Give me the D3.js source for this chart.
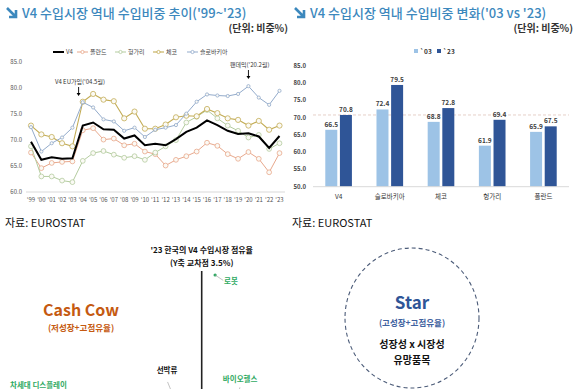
<!DOCTYPE html>
<html>
<head>
<meta charset="utf-8">
<script src="https://cdn.jsdelivr.net/npm/d3@7"></script>
<style>
  body { margin: 0; background: #ffffff; }
  svg { display: block; font-family: "Noto Sans CJK KR", "Noto Sans", sans-serif; }
</style>
</head>
<body>
<svg id="chart" width="584" height="389"></svg>
<script>

// Line chart data : share of intra-EU imports, '99 ~ '23
var years = ["'99","'00","'01","'02","'03","'04","'05","'06","'07","'08","'09","'10","'11",
             "'12","'13","'14","'15","'16","'17","'18","'19","'20","'21","'22","'23"];

var v4       = [69.7,66.2,66.7,66.4,66.5,72.8,73.4,72.1,72.0,70.3,70.9,69.0,69.3,69.0,70.2,71.6,72.4,73.8,72.9,71.8,71.2,71.3,70.7,68.5,70.8];
var poland   = [67.6,64.6,65.6,65.8,65.9,71.9,72.3,70.1,70.3,69.0,69.3,67.8,67.3,65.1,66.2,66.9,67.8,69.5,68.9,67.3,66.4,67.7,66.4,63.8,67.5];
var hungary  = [68.8,63.0,63.0,62.2,61.9,66.0,67.5,67.9,67.2,66.6,66.9,66.2,67.6,68.8,70.0,73.4,74.5,75.8,74.2,72.8,71.8,70.5,71.0,68.3,69.4];
var czech    = [72.8,71.1,70.6,69.4,68.8,77.4,78.9,77.8,77.5,74.2,75.5,72.2,72.2,73.0,74.4,74.7,74.6,76.0,75.2,74.2,73.9,72.8,73.7,72.0,72.8];
var slovakia = [72.5,67.8,69.4,70.5,72.4,77.3,76.3,74.0,73.6,71.8,72.4,70.6,72.0,72.4,72.9,75.1,77.4,78.8,78.6,78.5,78.9,80.4,78.2,76.8,79.5];

var lineTicks = [60, 65, 70, 75, 80, 85];

// Bar chart data : '03 vs '23
var barCountries = ["V4", "슬로바키아", "체코", "헝가리", "폴란드"];
var bar03 = [66.5, 72.4, 68.8, 61.9, 65.9];
var bar23 = [70.8, 79.5, 72.8, 69.4, 67.5];
var barTicks = [50, 55, 60, 65, 70, 75, 80, 85];

// Matrix : '23 Korea's share of the V4 import market (growth / share)
var matrixItems = [
  { name: "로봇",             growth: 3.92,  share: 10.0, color: "#2faa62", dx: 9,   dy: 9,   anchor: "start" },
  { name: "선박류",           growth: 2.6,   share: 1.1,  color: "#111111", dx: -6,  dy: -22, anchor: "middle" },
  { name: "바이오헬스",       growth: 4.64,  share: 1.1,  color: "#2faa62", dx: 2,   dy: -13, anchor: "middle" },
  { name: "차세대 디스플레이", growth: -2.13, share: 0.9,  color: "#2faa62", dx: -12, dy: -9.5, anchor: "start" }
];

var svg = d3.select("#chart");
var titleColor = "#3c88bd";

// ---------- headers ----------
function header(x, title, unitX) {
  svg.append("path")
     .attr("d", "M" + (x) + "," + 8 + " L" + (x + 8) + "," + 16 + " M" + (x + 9) + "," + 10 + " L" + (x + 9) + "," + 17 + " L" + (x + 2) + "," + 17)
     .attr("fill", "none")
     .attr("stroke", titleColor)
     .attr("stroke-width", 2.6);
  svg.append("text")
     .attr("x", x + 15)
     .attr("y", 18)
     .attr("fill", titleColor)
     .style("font-size", "13px")
     .style("font-weight", "500")
     .text(title);
  svg.append("text")
     .attr("x", unitX)
     .attr("y", 32)
     .attr("text-anchor", "end")
     .attr("fill", "#333")
     .style("font-size", "10px")
     .style("font-weight", "bold")
     .text("(단위: 비중%)");
}
header(7, "V4 수입시장 역내 수입비중 추이('99~'23)", 288);
header(295, "V4 수입시장 역내 수입비중 변화('03 vs '23)", 573);

// ---------- line chart ----------
var x = d3.scalePoint().domain(years).range([31, 279.5]);
var y = d3.scaleLinear().domain([60, 85]).range([192, 62.3]);

svg.append("line")
   .attr("x1", 26).attr("x2", 285)
   .attr("y1", y(60)).attr("y2", y(60))
   .attr("stroke", "#d9d9d9").attr("stroke-width", 1);

svg.append("g").selectAll("text")
   .data(lineTicks).enter().append("text")
   .attr("x", 22)
   .attr("y", function(d) { return y(d) + 2; })
   .attr("text-anchor", "end")
   .attr("fill", "#555")
   .style("font-size", "6px")
   .text(function(d) { return d.toFixed(1); });

svg.append("g").selectAll("text")
   .data(years).enter().append("text")
   .attr("x", function(d) { return x(d); })
   .attr("y", 202)
   .attr("text-anchor", "middle")
   .attr("fill", "#555")
   .style("font-size", "6px")
   .text(function(d) { return d; });

var series = [
  { name: "폴란드",     values: poland,   color: "#e8a88c", width: 1, r: 2.4 },
  { name: "헝가리",     values: hungary,  color: "#b4cc9f", width: 1, r: 2.4 },
  { name: "체코",       values: czech,    color: "#c3ac55", width: 1.1, r: 2.6 },
  { name: "슬로바키아", values: slovakia, color: "#93abcb", width: 1, r: 1.6 },
  { name: "V4",         values: v4,       color: "#000000", width: 2, r: 0 }
];

var line = d3.line()
  .x(function(d, i) { return x(years[i]); })
  .y(function(d) { return y(d); });

series.forEach(function(s) {
  svg.append("path")
     .datum(s.values)
     .attr("d", line)
     .attr("fill", "none")
     .attr("stroke", s.color)
     .attr("stroke-width", s.width);
  if (s.r > 0) {
    svg.append("g").selectAll("circle")
       .data(s.values).enter().append("circle")
       .attr("cx", function(d, i) { return x(years[i]); })
       .attr("cy", function(d) { return y(d); })
       .attr("r", s.r)
       .attr("fill", "#fbfaf5")
       .attr("stroke", s.color)
       .attr("stroke-width", 0.8);
  }
});

// legend
var legendOrder = ["V4", "폴란드", "헝가리", "체코", "슬로바키아"];
var legendX = [53, 77, 115, 153, 187];
legendOrder.forEach(function(name, i) {
  var s = series.filter(function(d) { return d.name === name; })[0];
  var g = svg.append("g").attr("transform", "translate(" + legendX[i] + ",52)");
  g.append("line").attr("x1", 0).attr("x2", 11).attr("y1", 0).attr("y2", 0)
   .attr("stroke", s.color).attr("stroke-width", s.width);
  if (s.r > 0) {
    g.append("circle").attr("cx", 5.5).attr("cy", 0).attr("r", 1.6)
     .attr("fill", "#fff").attr("stroke", s.color).attr("stroke-width", 0.8);
  }
  g.append("text").attr("x", 13).attr("y", 2)
   .attr("fill", "#444").style("font-size", "6px").text(name);
});

// annotations
function note(label, year, textX, textY, y1, y2) {
  svg.append("text").attr("x", textX).attr("y", textY)
     .attr("fill", "#333").style("font-size", "6px").text(label);
  svg.append("line").attr("x1", year).attr("x2", year).attr("y1", y1).attr("y2", y2 - 3)
     .attr("stroke", "#000").attr("stroke-width", 0.9);
  svg.append("path")
     .attr("d", "M" + (year - 2) + "," + (y2 - 3) + " L" + (year + 2) + "," + (y2 - 3) + " L" + year + "," + y2 + " Z")
     .attr("fill", "#000");
}
note("V4 EU가입('04.5월)", (x("'03") + x("'04")) / 2 + 1, 55, 84, 87, 96);
note("팬데믹('20.2월)", x("'20"), 230, 67, 70, 79);

// ---------- bar chart ----------
var x0 = d3.scaleBand().domain(barCountries).range([313, 569]).paddingInner(0.48).paddingOuter(0.24);
var x1 = d3.scaleBand().domain(["03", "23"]).range([0, x0.bandwidth()]).paddingInner(0.18);
var yb = d3.scaleLinear().domain([50, 85]).range([186.7, 66]);

svg.append("g").selectAll("text")
   .data(barTicks).enter().append("text")
   .attr("x", 306)
   .attr("y", function(d) { return yb(d) + 2; })
   .attr("text-anchor", "end")
   .attr("fill", "#444")
   .style("font-size", "6px")
   .style("font-weight", "bold")
   .text(function(d) { return d.toFixed(1); });

svg.append("line")
   .attr("x1", 313).attr("x2", 569)
   .attr("y1", yb(bar23[0])).attr("y2", yb(bar23[0]))
   .attr("stroke", "#e3cbc3").attr("stroke-width", 0.9)
   .attr("stroke-dasharray", "3,2");

var barGroups = [
  { key: "03", values: bar03, color: "#9dc3e6" },
  { key: "23", values: bar23, color: "#2f5597" }
];

barGroups.forEach(function(b) {
  svg.append("g").selectAll("rect")
     .data(b.values).enter().append("rect")
     .attr("x", function(d, i) { return x0(barCountries[i]) + x1(b.key); })
     .attr("y", function(d) { return yb(d); })
     .attr("width", x1.bandwidth())
     .attr("height", function(d) { return yb(50) - yb(d); })
     .attr("fill", b.color);
  svg.append("g").selectAll("text")
     .data(b.values).enter().append("text")
     .attr("x", function(d, i) { return x0(barCountries[i]) + x1(b.key) + x1.bandwidth() / 2; })
     .attr("y", function(d) { return yb(d) - 3; })
     .attr("text-anchor", "middle")
     .attr("fill", "#404040")
     .style("font-size", "6.5px")
     .style("font-weight", "bold")
     .text(function(d) { return d.toFixed(1); });
});

svg.append("line")
   .attr("x1", 313).attr("x2", 569)
   .attr("y1", yb(50)).attr("y2", yb(50))
   .attr("stroke", "#d9d9d9").attr("stroke-width", 1);

svg.append("g").selectAll("text")
   .data(barCountries).enter().append("text")
   .attr("x", function(d) { return x0(d) + x0.bandwidth() / 2; })
   .attr("y", 199)
   .attr("text-anchor", "middle")
   .attr("fill", "#333")
   .style("font-size", "6.5px")
   .text(function(d) { return d; });

// bar legend
[{ label: "`03", color: "#9dc3e6", x: 414 }, { label: "`23", color: "#2f5597", x: 437 }].forEach(function(l) {
  svg.append("rect").attr("x", l.x).attr("y", 49).attr("width", 4).attr("height", 4).attr("fill", l.color);
  svg.append("text").attr("x", l.x + 6).attr("y", 53.5)
     .attr("fill", "#333").style("font-size", "6.5px").style("font-weight", "bold").text(l.label);
});

// sources
[5, 292].forEach(function(sx) {
  svg.append("text").attr("x", sx).attr("y", 227)
     .attr("fill", "#111").style("font-size", "11px").text("자료: EUROSTAT");
});

// ---------- matrix (bottom) ----------
var qx = d3.scaleLinear().domain([0, 3.5]).range([90, 201.7]);
var qy = d3.scaleLinear().domain([0, 10]).range([410, 275]);

svg.append("text").attr("x", qx(3.5)).attr("y", 253)
   .attr("text-anchor", "middle").attr("fill", "#111")
   .style("font-size", "8px").style("font-weight", "bold")
   .text("'23 한국의 V4 수입시장 점유율");
svg.append("text").attr("x", qx(3.5)).attr("y", 266)
   .attr("text-anchor", "middle").attr("fill", "#111")
   .style("font-size", "8px").style("font-weight", "bold")
   .text("(Y축 교차점 3.5%)");
svg.append("line")
   .attr("x1", qx(3.5)).attr("x2", qx(3.5)).attr("y1", 271).attr("y2", 389)
   .attr("stroke", "#222").attr("stroke-width", 1.6);

matrixItems.forEach(function(m) {
  var px = qx(m.growth), py = qy(m.share);
  svg.append("circle").attr("cx", px).attr("cy", py).attr("r", 1.6).attr("fill", m.color);
  svg.append("line")
     .attr("x1", px).attr("y1", py)
     .attr("x2", px + m.dx * 0.9).attr("y2", py + m.dy * 0.6)
     .attr("stroke", "#9a9a9a").attr("stroke-width", 0.6);
  svg.append("text")
     .attr("x", px + m.dx).attr("y", py + m.dy)
     .attr("text-anchor", m.anchor)
     .attr("fill", m.color)
     .style("font-size", "7.5px").style("font-weight", "bold")
     .text(m.name);
});

svg.append("text").attr("x", 81).attr("y", 316)
   .attr("text-anchor", "middle").attr("fill", "#c55a11")
   .style("font-size", "16px").style("font-weight", "bold").text("Cash Cow");
svg.append("text").attr("x", 81).attr("y", 331)
   .attr("text-anchor", "middle").attr("fill", "#c55a11")
   .style("font-size", "8.5px").style("font-weight", "bold").text("(저성장+고점유율)");

svg.append("ellipse")
   .attr("cx", 412).attr("cy", 318).attr("rx", 67).attr("ry", 70)
   .attr("fill", "none").attr("stroke", "#4b5b78").attr("stroke-width", 1.1)
   .attr("stroke-dasharray", "4,3");
svg.append("text").attr("x", 412).attr("y", 309)
   .attr("text-anchor", "middle").attr("fill", "#2f5597")
   .style("font-size", "17px").style("font-weight", "bold").text("Star");
svg.append("text").attr("x", 412).attr("y", 326)
   .attr("text-anchor", "middle").attr("fill", "#3f62a0")
   .style("font-size", "8.5px").style("font-weight", "bold").text("(고성장+고점유율)");
svg.append("text").attr("x", 412).attr("y", 348)
   .attr("text-anchor", "middle").attr("fill", "#111")
   .style("font-size", "10px").style("font-weight", "bold").text("성장성 x 시장성");
svg.append("text").attr("x", 412).attr("y", 364)
   .attr("text-anchor", "middle").attr("fill", "#111")
   .style("font-size", "10px").style("font-weight", "bold").text("유망품목");

</script>
</body>
</html>
